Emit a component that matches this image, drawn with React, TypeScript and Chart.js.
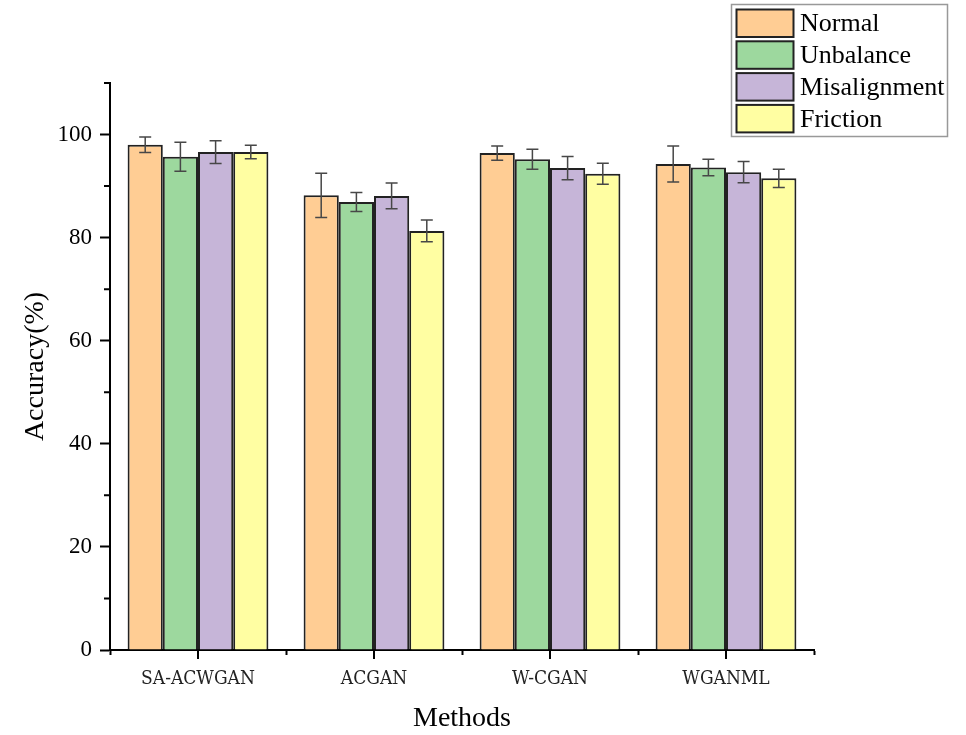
import React, { useEffect, useRef } from "react";
import { Chart, registerables } from "chart.js";

Chart.register(...registerables);

const categories = ["SA-ACWGAN", "ACGAN", "W-CGAN", "WGANML"];
const seriesNames = ["Normal", "Unbalance", "Misalignment", "Friction"];
const normal = [98.0, 88.2, 96.4, 94.3];
const unbalance = [95.7, 86.9, 95.2, 93.6];
const misalignment = [96.6, 88.1, 93.5, 92.7];
const friction = [96.6, 81.3, 92.4, 91.5];
const normalErr = [1.5, 4.3, 1.4, 3.5];
const unbalanceErr = [2.8, 1.85, 1.95, 1.6];
const misalignmentErr = [2.2, 2.5, 2.25, 2.05];
const frictionErr = [1.3, 2.1, 2.05, 1.75];
const seriesColors = ["#FFCD94", "#9DD89E", "#C6B5D8", "#FFFEA2"];
const yMinorTicks = [10, 30, 50, 70, 90, 110];

const seriesValues = [normal, unbalance, misalignment, friction];
const seriesErrors = [normalErr, unbalanceErr, misalignmentErr, frictionErr];

const SERIF = "'Liberation Serif', 'Times New Roman', serif";
const CATFONT = "'DejaVu Serif Condensed', 'Liberation Mono', monospace";

const extrasPlugin = {
  id: "extras",
  afterDatasetsDraw(chart: any) {
    const ctx = chart.ctx;
    const y = chart.scales.y;
    ctx.save();
    ctx.strokeStyle = "#474747";
    ctx.lineWidth = 1.5;
    chart.data.datasets.forEach((ds: any, di: number) => {
      const meta = chart.getDatasetMeta(di);
      meta.data.forEach((bar: any, i: number) => {
        const v = seriesValues[di][i];
        const e = seriesErrors[di][i];
        const x = bar.x;
        const yt = y.getPixelForValue(v + e);
        const yb = y.getPixelForValue(v - e);
        ctx.beginPath();
        ctx.moveTo(x, yt);
        ctx.lineTo(x, yb);
        ctx.moveTo(x - 6, yt);
        ctx.lineTo(x + 6, yt);
        ctx.moveTo(x - 6, yb);
        ctx.lineTo(x + 6, yb);
        ctx.stroke();
      });
    });
    ctx.restore();
  },
  afterDraw(chart: any) {
    const ctx = chart.ctx;
    const x = chart.scales.x;
    const y = chart.scales.y;
    const area = chart.chartArea;
    ctx.save();
    ctx.strokeStyle = "#000";
    ctx.lineWidth = 2;
    ctx.beginPath();
    yMinorTicks.forEach((v) => {
      const py = y.getPixelForValue(v);
      ctx.moveTo(area.left - 6, py);
      ctx.lineTo(area.left, py);
    });
    categories.forEach((_c, i) => {
      const px = x.getPixelForValue(i);
      ctx.moveTo(px, area.bottom);
      ctx.lineTo(px, area.bottom + 9);
    });
    ctx.stroke();

    // legend
    const bx = 731.5, by = 4.5, bw = 216, bh = 132;
    ctx.fillStyle = "#fff";
    ctx.fillRect(bx, by, bw, bh);
    ctx.strokeStyle = "#999";
    ctx.lineWidth = 1.5;
    ctx.strokeRect(bx, by, bw, bh);
    chart.data.datasets.forEach((ds: any, i: number) => {
      const sy = 9.5 + i * 31.8;
      ctx.fillStyle = ds.backgroundColor;
      ctx.fillRect(736.5, sy, 57, 27.5);
      ctx.strokeStyle = "#222";
      ctx.lineWidth = 2;
      ctx.strokeRect(736.5, sy, 57, 27.5);
      ctx.fillStyle = "#000";
      ctx.font = `26px ${SERIF}`;
      ctx.textBaseline = "middle";
      ctx.textAlign = "left";
      ctx.fillText(ds.label, 800, sy + 15);
    });
    ctx.restore();
  },
};

export default function App() {
  const ref = useRef<HTMLCanvasElement>(null);
  useEffect(() => {
    const chart = new Chart(ref.current!, {
      type: "bar",
      data: {
        labels: categories,
        datasets: seriesNames.map((name, i) => ({
          label: name,
          data: seriesValues[i],
          backgroundColor: seriesColors[i],
          borderColor: "#222",
          borderWidth: 2,
          barPercentage: 1,
          categoryPercentage: 0.8,
        })),
      },
      options: {
        responsive: false,
        animation: false,
        devicePixelRatio: 1,
        layout: { padding: { top: 83, right: 152, left: 0, bottom: 0 } },
        plugins: {
          legend: { display: false },
          tooltip: { enabled: false },
        },
        scales: {
          x: {
            offset: true,
            grid: {
              offset: true,
              drawOnChartArea: false,
              drawTicks: true,
              tickLength: 5,
              tickWidth: 2,
              tickColor: "#000",
            },
            border: { display: true, color: "#000", width: 2 },
            ticks: {
              color: "#222",
              font: { family: CATFONT, size: 19 },
              padding: 13,
              maxRotation: 0,
            },
            title: {
              display: true,
              text: "Methods",
              color: "#000",
              font: { family: SERIF, size: 28 },
              padding: { top: 0, bottom: 0 },
            },
            afterFit: (scale: any) => {
              scale.height = 85;
            },
          },
          y: {
            min: 0,
            max: 110,
            grid: {
              drawOnChartArea: false,
              drawTicks: true,
              tickLength: 10,
              tickWidth: 2,
              tickColor: (c: any) => (c.tick && c.tick.value % 20 === 0 ? "#000" : "rgba(0,0,0,0)"),
            },
            border: { display: true, color: "#000", width: 2 },
            ticks: {
              stepSize: 10,
              color: "#000",
              font: { family: SERIF, size: 23 },
              padding: 8,
              callback: (v: any) => (Number(v) % 20 === 0 ? String(v) : ""),
            },
            title: {
              display: true,
              text: "Accuracy(%)",
              color: "#000",
              font: { family: SERIF, size: 28 },
              padding: { top: 19, bottom: 0 },
            },
            afterFit: (scale: any) => {
              scale.width = 110;
            },
          },
        },
      },
      plugins: [extrasPlugin],
    });
    return () => chart.destroy();
  }, []);
  return (
    <div style={{ position: "absolute", left: 0, top: 0, width: 966, height: 735, background: "#fff" }}>
      <canvas ref={ref} width={966} height={735} />
    </div>
  );
}
